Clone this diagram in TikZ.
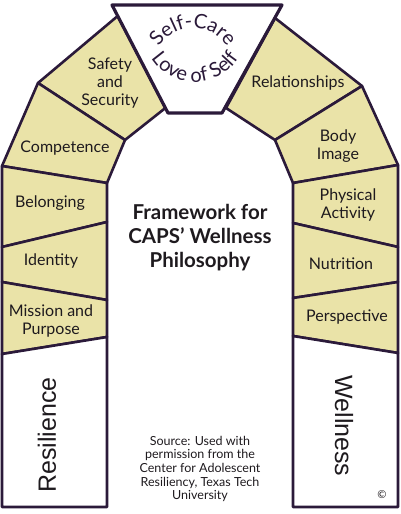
\documentclass[tikz,border=0pt]{standalone}
\usepackage{fontspec}
\setmainfont{Lato}
\newfontfamily\arialfont{Liberation Sans}
\usetikzlibrary{decorations.text}
\definecolor{khaki}{HTML}{EAE3A8}
\definecolor{edge}{HTML}{2B1A3A}
\definecolor{ink}{HTML}{1E1A1E}
\tikzset{
  block/.style={fill=khaki, draw=edge, line width=2.6pt, line join=round},
  pillar/.style={fill=white, draw=edge, line width=2.6pt, line join=round},
  lbl/.style={text=ink, font=\fontsize{16}{18}\selectfont, align=center, inner sep=0pt},
  bigword/.style={text=ink, font=\arialfont\fontsize{25}{25}\selectfont, inner sep=0pt},
}
\begin{document}
\begin{tikzpicture}[x=1pt,y=1pt]
\useasboundingbox (0,0) rectangle (400,514);
% left column
\draw[block] (117.7,498) -- (38,431) -- (125,374) -- (165.4,406) -- cycle;
\draw[block] (38,431) -- (2,348) -- (107,331) -- (125,374) -- cycle;
\draw[block] (2,348) -- (2,267) -- (107,292) -- (107,331) -- cycle;
\draw[block] (2,267) -- (2,232) -- (107,214) -- (107,292) -- cycle;
\draw[block] (2,232) -- (2,160) -- (107,177) -- (107,214) -- cycle;
\draw[pillar] (2,160) -- (2,7) -- (107,7) -- (107,177) -- cycle;
% right column
\draw[block] (275,496) -- (362,428) -- (275,374) -- (226,406) -- cycle;
\draw[block] (362,428) -- (398,349) -- (293,331) -- (275,374) -- cycle;
\draw[block] (293,331) -- (398,349) -- (398,267) -- (293,291) -- cycle;
\draw[block] (293,291) -- (398,267) -- (398,232) -- (293,216) -- cycle;
\draw[block] (293,216) -- (398,232) -- (398,161) -- (293,178) -- cycle;
\draw[pillar] (293,178) -- (398,161) -- (398,7) -- (293,7) -- cycle;
% keystone
\draw[pillar, line width=3.2pt] (112,509) -- (282,509) -- (222,401) -- (168,401) -- cycle;
% keystone texts
\path[decorate, decoration={text along path, text align=center,
  text format delimiters={|}{|},
  text={|\fontsize{20}{20}\selectfont\color{edge}|Self-Care}}]
  (193,446) ++(150:40) arc[start angle=150, end angle=30, radius=40];
\path[decorate, decoration={text along path, text align=center,
  text format delimiters={|}{|},
  text={|\fontsize{20}{20}\selectfont\color{edge}|Love of Self}}]
  (195,484) ++(205:52) arc[start angle=205, end angle=335, radius=52];
% labels
\node[lbl] (safety) at (110,431) {Safety\\and\\Security};
\node[lbl] (comp) at (65,366) {Competence};
\node[lbl] (belong) at (50,311) {Belonging};
\node[lbl] (ident) at (51,253) {Identity};
\node[lbl] (mission) at (51,193) {Mission and\\Purpose};
\node[lbl] (rel) at (298,431) {Relationships};
\node[lbl] (body) at (338,368) {Body\\Image};
\node[lbl] (phys) at (348,309.5) {Physical\\Activity};
\node[lbl] (nutr) at (341,250) {Nutrition};
\node[lbl] (persp) at (347,197) {Perspective};
\node[bigword, rotate=90] (resil) at (47,79) {Resilience};
\node[bigword, rotate=-90] (well) at (344,88) {Wellness};
\node[text=ink, font=\bfseries\fontsize{20.5}{24}\selectfont, align=center, inner sep=0pt] (title) at (200,276) {Framework for\\CAPS’ Wellness\\Philosophy};
\node[text=ink, font=\fontsize{12.5}{13.7}\selectfont, align=center, inner sep=0pt] (source) at (200,45) {Source: Used with\\permission from the\\Center for Adolescent\\Resiliency, Texas Tech\\University};
\node[text=ink, font=\fontsize{11}{11}\selectfont, inner sep=0pt] (copy) at (382,19) {\textcopyright};
\end{tikzpicture}
\end{document}
